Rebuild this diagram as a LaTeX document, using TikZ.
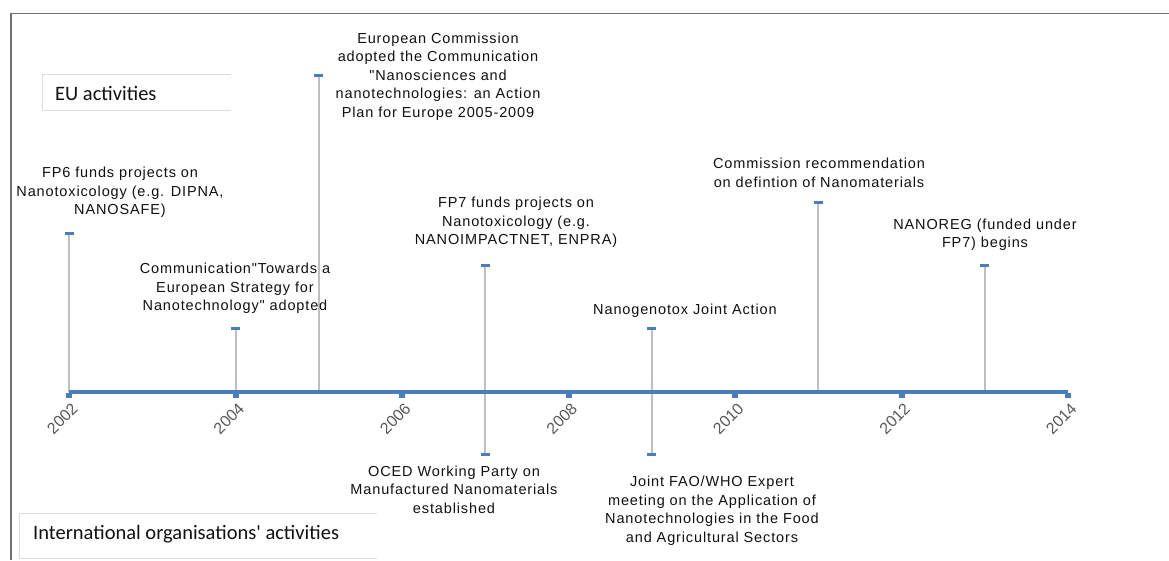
\documentclass[tikz,border=0pt]{standalone}
\usepackage{fontspec}
\setmainfont{Liberation Sans}
\newfontfamily\evtfont{Liberation Sans}[LetterSpace=6]
\newfontfamily\yearfont{Liberation Sans}
\newfontfamily\boxfont{Carlito}

\definecolor{axisblue}{HTML}{4A7EBB}
\definecolor{stemgray}{HTML}{BFBFBF}
\definecolor{framegray}{HTML}{707070}
\definecolor{boxline}{HTML}{DCDCDC}
\definecolor{yeargray}{HTML}{595959}
\definecolor{labelink}{HTML}{111111}

\tikzset{
  evtlabel/.style={align=center, inner sep=0pt, text=labelink,
    font=\evtfont\fontsize{14.5}{18.5}\selectfont},
  yearlab/.style={inner sep=0pt, text=yeargray, anchor=east, rotate=45,
    font=\yearfont\fontsize{16}{19}\selectfont},
  boxtext/.style={inner sep=0pt, text=labelink, anchor=base west,
    font=\boxfont\fontsize{20.5}{24}\selectfont},
  boxedge/.style={draw=boxline, line width=1pt},
  frameline/.style={draw=framegray, line width=1.8pt},
  stem/.style={draw=stemgray, line width=2pt},
  axisline/.style={draw=axisblue, line width=4.5pt},
  capmark/.style={rectangle, fill=axisblue, draw=none, inner sep=0pt,
    outer sep=0pt, minimum width=9pt, minimum height=3pt},
  tickmark/.style={rectangle, fill=axisblue, draw=none, inner sep=0pt,
    outer sep=0pt, minimum width=6pt, minimum height=5pt},
}

\begin{document}
\begin{tikzpicture}[x=1pt,y=-1pt]
\useasboundingbox (0,0) rectangle (1169,560);
\fill[white] (0,0) rectangle (1169,560);

% outer frame (top and left edges)
\draw[frameline] (10,13.5) -- (1169,13.5);
\draw[frameline] (11,13.5) -- (11,560);

% legend boxes
\draw[boxedge] (231,74) -- (42,74) -- (42,110) -- (231,110);
\node[boxtext] (eu) at (55,100) {EU activities};
\draw[boxedge] (377,513) -- (19,513) -- (19,558) -- (377,558);
\node[boxtext] (intl) at (33,539) {International organisations' activities};

% axis end points and stem bases
\coordinate (a0) at (69,392);
\coordinate (a1) at (1068,392);
\coordinate (b02) at (69,392);
\coordinate (b04) at (235.5,392);
\coordinate (b05) at (318.75,392);
\coordinate (b07) at (485.25,392);
\coordinate (b09) at (651.75,392);
\coordinate (b11) at (818.25,392);
\coordinate (b13) at (984.75,392);

% stem ends
\coordinate (e02) at (69,233);
\coordinate (e04) at (235.5,328);
\coordinate (e05) at (318.75,75);
\coordinate (e07u) at (485.25,265);
\coordinate (e07d) at (485.25,454);
\coordinate (e09u) at (651.75,328);
\coordinate (e09d) at (651.75,454);
\coordinate (e11) at (818.25,202);
\coordinate (e13) at (984.75,265);

% stems
\draw[stem] (b02) -- (e02);
\draw[stem] (b04) -- (e04);
\draw[stem] (b05) -- (e05);
\draw[stem] (b07) -- (e07u);
\draw[stem] (b07) -- (e07d);
\draw[stem] (b09) -- (e09u);
\draw[stem] (b09) -- (e09d);
\draw[stem] (b11) -- (e11);
\draw[stem] (b13) -- (e13);

% caps on the stem ends
\node[capmark] (c02) at (e02) {};
\node[capmark] (c04) at (e04) {};
\node[capmark] (c05) at (e05) {};
\node[capmark] (c07u) at (e07u) {};
\node[capmark] (c07d) at (e07d) {};
\node[capmark] (c09u) at (e09u) {};
\node[capmark] (c09d) at (e09d) {};
\node[capmark] (c11) at (e11) {};
\node[capmark] (c13) at (e13) {};

% time axis
\draw[axisline] (a0) -- (a1);
\foreach \yr [evaluate=\yr as \xx using {69+83.25*(\yr-2002)}] in {2002,2004,...,2014} {
  \node[tickmark] (tk\yr) at (\xx,395.5) {};
  \node[yearlab] (yr\yr) at (\xx+6,406) {\yr};
}

% EU events (above the axis)
\node[evtlabel] (l02) at (120,192.5)
  {FP6 funds projects on\\Nanotoxicology (e.g. DIPNA,\\NANOSAFE)};
\node[evtlabel] (l04) at (235,288.5)
  {Communication"Towards a\\European Strategy for\\Nanotechnology" adopted};
\node[evtlabel] (l05) at (438,76.5)
  {European Commission\\adopted the Communication\\"Nanosciences and\\nanotechnologies: an Action\\Plan for Europe 2005-2009};
\node[evtlabel] (l07u) at (516,222.5)
  {FP7 funds projects on\\Nanotoxicology (e.g.\\NANOIMPACTNET, ENPRA)};
\node[evtlabel] (l09u) at (685,311)
  {Nanogenotox Joint Action};
\node[evtlabel] (l11) at (819,173)
  {Commission recommendation\\on defintion of Nanomaterials};
\node[evtlabel] (l13) at (985,234.5)
  {NANOREG (funded under\\FP7) begins};

% international events (below the axis)
\node[evtlabel] (l07d) at (454,489.5)
  {OCED Working Party on\\Manufactured Nanomaterials\\established};
\node[evtlabel] (l09d) at (712,510.5)
  {Joint FAO/WHO Expert\\meeting on the Application of\\Nanotechnologies in the Food\\and Agricultural Sectors};
\end{tikzpicture}
\end{document}
